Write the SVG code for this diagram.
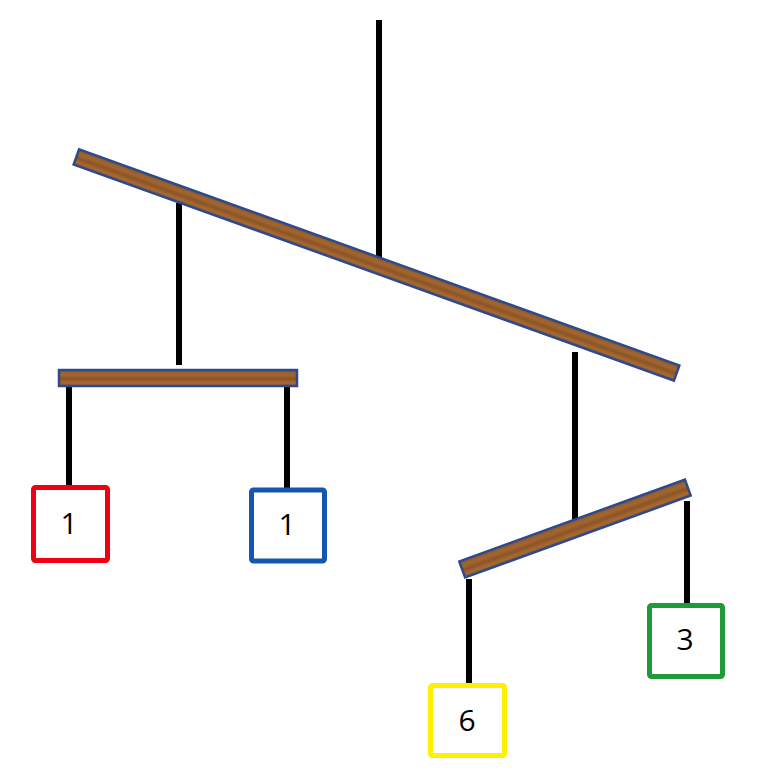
<svg xmlns="http://www.w3.org/2000/svg" width="778" height="778" viewBox="0 0 778 778">
<defs>
<linearGradient id="wood" x1="0" y1="0" x2="0" y2="1">
<stop offset="0" stop-color="#8f5828"/>
<stop offset="0.3" stop-color="#a2662f"/>
<stop offset="0.55" stop-color="#8c5426"/>
<stop offset="0.8" stop-color="#a56a32"/>
<stop offset="1" stop-color="#93592a"/>
</linearGradient>
<style>
.bar{fill:url(#wood);stroke:#2e4a8c;stroke-width:2.5}
.wire{stroke:#000;stroke-width:6;fill:none}
.box{fill:#fff;stroke-width:5}
.lbl{font-family:"Open Sans","Liberation Sans",sans-serif;font-size:30px;fill:#000;text-anchor:middle;dominant-baseline:central}
</style>
</defs>
<rect width="778" height="778" fill="#fff"/>
<g id="connectors">
<line class="wire" x1="379" y1="20" x2="379" y2="258"/>
<line class="wire" x1="179" y1="203" x2="179" y2="365"/>
<line class="wire" x1="575" y1="352" x2="575" y2="521"/>
<line class="wire" x1="69" y1="387" x2="69" y2="488"/>
<line class="wire" x1="287" y1="387" x2="287" y2="489"/>
<line class="wire" x1="469" y1="579" x2="469" y2="685"/>
<line class="wire" x1="687" y1="501" x2="687" y2="605"/>
</g>
<g id="bar-top">
<rect class="bar" x="-319" y="-8" width="638" height="16" transform="translate(376.5,265) rotate(19.8)"/>
</g>
<g id="bar-left">
<rect class="bar" x="59" y="370" width="238" height="16"/>
</g>
<g id="bar-right">
<rect class="bar" x="-120" y="-8.5" width="240" height="17" transform="translate(575,528.5) rotate(-19.94)"/>
</g>
<g id="box-red">
<rect class="box" x="33.5" y="487.5" width="74" height="73" rx="2" stroke="#f00010"/>
<text class="lbl" x="69" y="522">1</text>
</g>
<g id="box-blue">
<rect class="box" x="251.5" y="490" width="73" height="71" rx="2" stroke="#1557b0"/>
<text class="lbl" x="287" y="523">1</text>
</g>
<g id="box-yellow">
<rect class="box" x="430.5" y="685.5" width="74" height="70" rx="2" stroke="#ffef00"/>
<text class="lbl" x="467" y="719">6</text>
</g>
<g id="box-green">
<rect class="box" x="649.5" y="605.5" width="73" height="71" rx="2" stroke="#1f9a3a"/>
<text class="lbl" x="685" y="638">3</text>
</g>
</svg>
